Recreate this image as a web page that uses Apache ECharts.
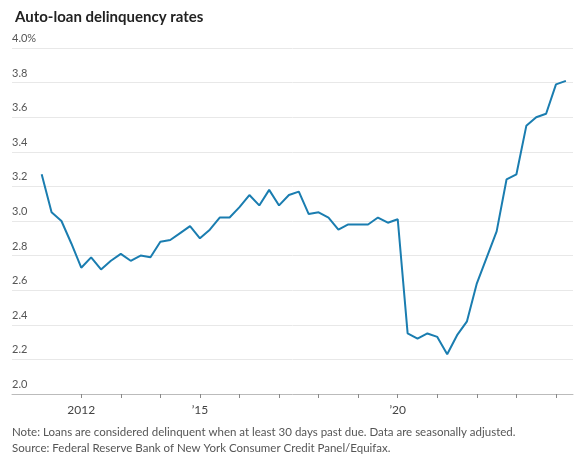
<!DOCTYPE html>
<html>
<head>
<meta charset="utf-8">
<script src="https://cdn.jsdelivr.net/npm/echarts@6/dist/echarts.min.js"></script>
<style>
	html, body { margin: 0; padding: 0; background: #fff; }
	#chart { width: 584px; height: 465px; }
</style>
</head>
<body>
<div id="chart"></div>
<script>
// quarterly, 2011 Q1 .. 2024 Q2
var startYear = 2011;
var rates = [
	3.27, 3.05, 3.00, 2.87, 2.73, 2.79, 2.72, 2.77, 2.81, 2.77, 2.80, 2.79,
	2.88, 2.89, 2.93, 2.97, 2.90, 2.95, 3.02, 3.02, 3.08, 3.15, 3.09, 3.18,
	3.09, 3.15, 3.17, 3.04, 3.05, 3.02, 2.95, 2.98, 2.98, 2.98, 3.02, 2.99,
	3.01, 2.35, 2.32, 2.35, 2.33, 2.23, 2.34, 2.42, 2.64, 2.79, 2.94, 3.24,
	3.27, 3.55, 3.60, 3.62, 3.79, 3.81
];
var yearTicks = [2012, 2013, 2014, 2015, 2016, 2017, 2018, 2019, 2020, 2021, 2022, 2023, 2024];
var labelYears = [2012, 2015, 2020];
var labelText = { 2012: '2012', 2015: '\u201915', 2020: '\u201920' };

var points = [];
for (var i = 0; i < rates.length; i++) {
	points.push([startYear + i * 0.25, rates[i]]);
}

var font = 'Lato, "Noto Sans", sans-serif';
var myChart = echarts.init(document.getElementById('chart'));
var option = {
	animation: false,
	title: {
		text: 'Auto-loan delinquency rates',
		left: 10, top: 5,
		textStyle: { fontFamily: font, fontSize: 15, fontWeight: 'bold', color: '#222' }
	},
	grid: { left: 12, right: 11, top: 48, bottom: 71 },
	xAxis: {
		type: 'value',
		min: 2010.25, max: 2024.43,
		axisLine: { show: true, lineStyle: { color: '#bbb' } },
		axisTick: { show: true, customValues: yearTicks, length: 4, lineStyle: { color: '#888' } },
		splitLine: { show: false },
		axisLabel: {
			customValues: labelYears,
			formatter: function (v) { return labelText[Math.round(v)]; },
			fontFamily: font, fontSize: 12, color: '#444', margin: 10
		}
	},
	yAxis: {
		type: 'value',
		min: 2.0, max: 4.0, interval: 0.2,
		axisLine: { show: false },
		axisTick: { show: false },
		splitLine: { lineStyle: { color: '#e8e8e8', width: 1 } },
		axisLabel: {
			inside: true, margin: 0, verticalAlign: 'bottom', padding: [0, 0, 4, 0],
			fontFamily: font, fontSize: 11, color: '#555',
			formatter: function (v) { return v === 4 ? '4.0%' : v.toFixed(1); }
		}
	},
	series: [{
		type: 'line',
		data: points,
		showSymbol: false,
		lineStyle: { color: '#1a7db0', width: 2 }
	}],
	graphic: [
		{ type: 'text', left: 12, top: 426, style: { text: 'Note: Loans are considered delinquent when at least 30 days past due. Data are seasonally adjusted.', font: '11.5px ' + font, fill: '#555' } },
		{ type: 'text', left: 12, top: 442, style: { text: 'Source: Federal Reserve Bank of New York Consumer Credit Panel/Equifax.', font: '11.5px ' + font, fill: '#555' } }
	]
};
myChart.setOption(option);
</script>
</body>
</html>
